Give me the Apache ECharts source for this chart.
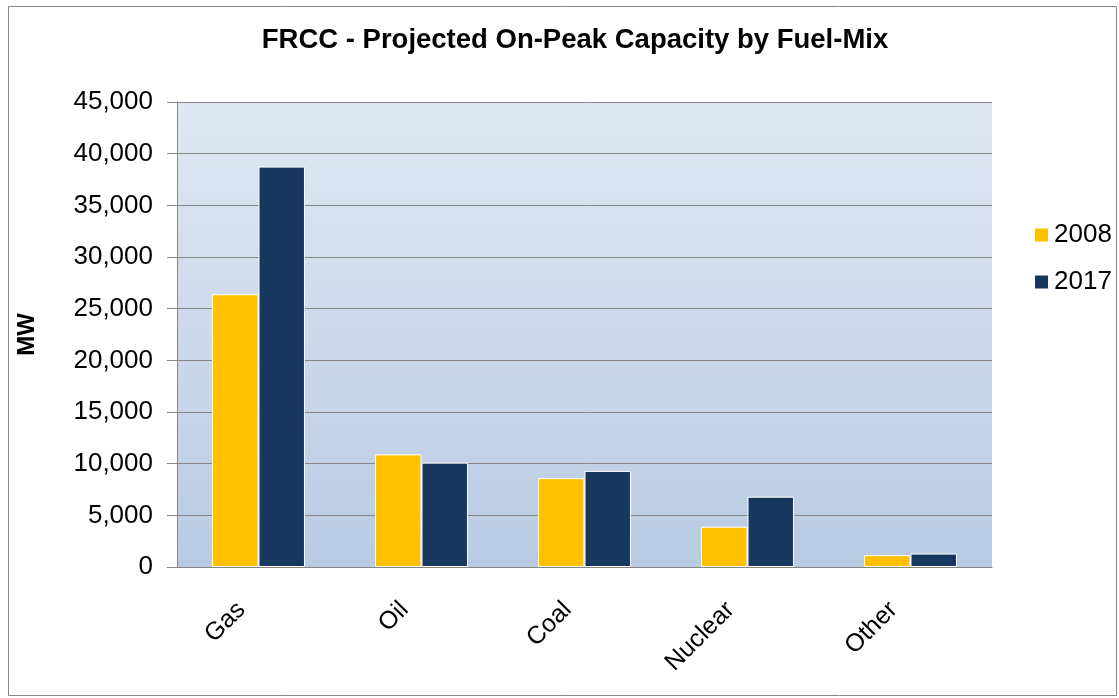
<!DOCTYPE html>
<html><head><meta charset="utf-8">
<script src="https://cdn.jsdelivr.net/npm/echarts@6/dist/echarts.min.js"></script>
<style>html,body{margin:0;padding:0;background:#fff;}#c{width:1119px;height:698px;}</style>
</head><body><div id="c"></div>
<script>
const categories = ['Gas', 'Oil', 'Coal', 'Nuclear', 'Other'];
const values2008 = [26400, 10900, 8600, 3900, 1150];
const values2017 = [38750, 10100, 9300, 6800, 1300];
const yTicks = { min: 0, max: 45000, interval: 5000 };

const chart = echarts.init(document.getElementById('c'));
const font = 'Liberation Sans, Arial, sans-serif';
chart.setOption({
  animation: false,
  backgroundColor: '#fff',
  graphic: [{
    type: 'rect', left: 6, top: 4, z: -10,
    shape: { width: 1108, height: 689 },
    style: { fill: 'none', stroke: '#868686', lineWidth: 1 }
  }],
  title: {
    text: 'FRCC - Projected On-Peak Capacity by Fuel-Mix',
    left: 570, top: 21, textAlign: 'center',
    textStyle: { fontFamily: font, fontWeight: 'bold', fontSize: 27.5, color: '#000' }
  },
  legend: {
    orient: 'vertical', left: 1028, top: 217,
    itemWidth: 15, itemHeight: 15, itemGap: 21,
    icon: 'rect',
    textStyle: { fontFamily: font, fontSize: 26, color: '#000' },
    data: ['2008', '2017']
  },
  grid: {
    left: 177, right: 127, top: 102, bottom: 131,
    show: true, borderWidth: 0,
    backgroundColor: new echarts.graphic.LinearGradient(0, 0, 0, 1, [
      { offset: 0, color: '#e0e7f4' }, { offset: 1, color: '#b8cbe3' }
    ])
  },
  xAxis: {
    type: 'category', data: categories,
    axisLine: { lineStyle: { color: '#868686', width: 1 } },
    axisTick: { length: 8, lineStyle: { color: '#868686' } },
    axisLabel: { rotate: 45, fontFamily: font, fontSize: 25, color: '#000', margin: 22, padding: [0, 24, 0, 0] }
  },
  yAxis: {
    type: 'value', min: yTicks.min, max: yTicks.max, interval: yTicks.interval,
    name: 'MW', nameLocation: 'middle', nameGap: 138, nameRotate: 90,
    nameTextStyle: { fontFamily: font, fontWeight: 'bold', fontSize: 24, color: '#000' },
    axisLine: { show: true, lineStyle: { color: '#868686', width: 1 } },
    axisTick: { show: true, length: 10, lineStyle: { color: '#868686' } },
    splitLine: { lineStyle: { color: '#868686', width: 1 } },
    axisLabel: {
      fontFamily: font, fontSize: 26, color: '#000', margin: 24,
      formatter: v => v.toLocaleString('en-US')
    }
  },
  series: [
    { name: '2008', type: 'bar', data: values2008, barGap: '0%', barCategoryGap: '43%',
      itemStyle: { color: '#ffc000', borderColor: '#fff', borderWidth: 1 } },
    { name: '2017', type: 'bar', data: values2017,
      itemStyle: { color: '#17375e', borderColor: '#fff', borderWidth: 1 } }
  ]
});
</script></body></html>
